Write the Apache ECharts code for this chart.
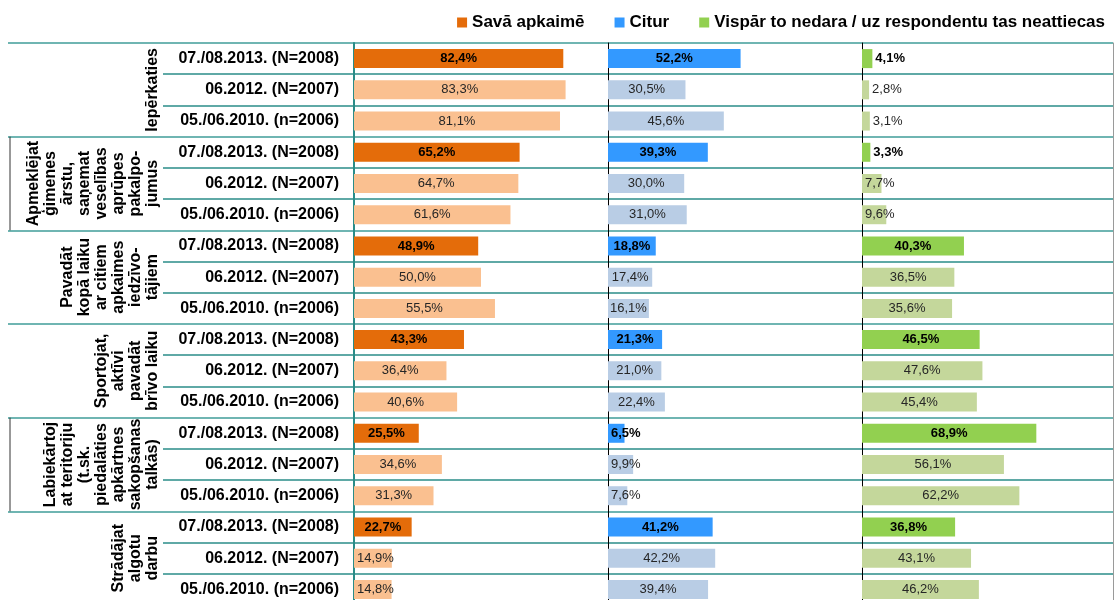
<!DOCTYPE html>
<html>
<head>
<meta charset="utf-8">
<script src="https://cdn.jsdelivr.net/npm/echarts@6/dist/echarts.min.js"></script>
<style>
  html, body { margin: 0; background: #fff; overflow: hidden; }
  /* pēdējā rinda atsaucē ir nogriezta apakšā, tāpēc zīmējums ir augstāks par logu */
  #chart { width: 1115px; height: 620px; }
</style>
</head>
<body>
<div id="chart"></div>
<script>
// grupas (rotēti virsraksti kreisajā kolonnā)
const groups = [
  'Iepērkaties',
  'Apmeklējat\nģimenes\nārstu,\nsaņemat\nveselības\naprūpes\npakalpo-\njumus',
  'Pavadāt\nkopā laiku\nar citiem\napkaimes\niedzīvo-\ntājiem',
  'Sportojat,\naktīvi\npavadāt\nbrīvo laiku',
  'Labiekārtoj\nat teritoriju\n(t.sk.\npiedalāties\napkārtnes\nsakopšanas\ntalkās)',
  'Strādājat\nalgotu\ndarbu'
]
const periods = ['07./08.2013. (N=2008)', '06.2012. (N=2007)', '05./06.2010. (n=2006)']
const seriesNames = ['Savā apkaimē', 'Citur', 'Vispār to nedara / uz respondentu tas neattiecas']

const savaApkaime = [82.4, 83.3, 81.1, 65.2, 64.7, 61.6, 48.9, 50.0, 55.5, 43.3, 36.4, 40.6, 25.5, 34.6, 31.3, 22.7, 14.9, 14.8]
const citur = [52.2, 30.5, 45.6, 39.3, 30.0, 31.0, 18.8, 17.4, 16.1, 21.3, 21.0, 22.4, 6.5, 9.9, 7.6, 41.2, 42.2, 39.4]
const vispar = [4.1, 2.8, 3.1, 3.3, 7.7, 9.6, 40.3, 36.5, 35.6, 46.5, 47.6, 45.4, 68.9, 56.1, 62.2, 36.8, 43.1, 46.2]

const FONT = 'Arial, "Liberation Sans", sans-serif'
const TEAL = '#2a8c88'
const rowKeys = groups.flatMap((g, gi) => periods.map((p, pi) => gi + '_' + pi))
const groupKeys = groups.map((g, gi) => 'g' + gi)

const panelLeft = [354, 608, 862]
const panelWidth = 254
const plotTop = 43
const plotHeight = 562
const pxPerPct = panelWidth / 100

const palette = [
  { strong: '#e46c0a', light: '#fac090' },
  { strong: '#3399ff', light: '#b9cde5' },
  { strong: '#92d050', light: '#c4d79b' }
]

function fmt(v) {
  return v.toFixed(1).replace('.', ',') + '%'
}

// etiķetes novietojums kā Excel: šauriem stabiņiem teksts pie ass
function labelPos(v) {
  const textW = 13 * ((v >= 10 ? 3 : 2) * 0.556 + 0.278 + 0.889)
  if (v < 5) return 'right'
  if (textW + 2 > v * pxPerPct) return 'insideLeft'
  return 'inside'
}

function buildData(values, colors) {
  return values.map((v, i) => {
    const bold = i % 3 === 0
    return {
      value: v,
      itemStyle: { color: bold ? colors.strong : colors.light },
      label: {
        position: labelPos(v),
        distance: 3,
        fontWeight: bold ? 'bold' : 'normal',
        color: bold ? '#000' : '#262626'
      }
    }
  })
}

const chart = echarts.init(document.getElementById('chart'))

const grid = panelLeft.map(l => ({ left: l, width: panelWidth, top: plotTop, height: plotHeight }))
grid.push({ left: 163, right: 2, top: plotTop, height: plotHeight }) // rindu līnijas
grid.push({ left: 8, right: 2, top: plotTop, height: plotHeight })   // grupu līnijas

const xAxis = grid.map((g, i) => ({ type: 'value', gridIndex: i, min: 0, max: 100, show: false }))

const yAxis = panelLeft.map((l, i) => ({
  type: 'category',
  gridIndex: i,
  inverse: true,
  data: rowKeys,
  axisLine: { show: true, onZero: false, lineStyle: { color: i === 0 ? TEAL : '#000', width: i === 0 ? 2 : 1 } },
  axisTick: { show: false },
  splitLine: { show: false },
  axisLabel: {
    show: i === 0,
    margin: 15,
    fontFamily: FONT,
    fontSize: 16,
    fontWeight: 'bold',
    color: '#000',
    formatter: k => periods[+k.split('_')[1]]
  }
}))
yAxis.push({
  type: 'category', gridIndex: 3, inverse: true, data: rowKeys, position: 'right',
  axisLine: { show: true, onZero: false, lineStyle: { color: '#9a9a9a', width: 1 } },
  axisTick: { show: false }, axisLabel: { show: false },
  splitLine: { show: true, lineStyle: { color: TEAL, width: 1.5 } }
})
yAxis.push({
  type: 'category', gridIndex: 4, inverse: true, data: groupKeys,
  axisLine: { show: false }, axisTick: { show: false }, axisLabel: { show: false },
  splitLine: { show: true, lineStyle: { color: '#6fb5b2', width: 2 } }
})

const series = [savaApkaime, citur, vispar].map((vals, i) => ({
  name: seriesNames[i],
  type: 'bar',
  xAxisIndex: i,
  yAxisIndex: i,
  barWidth: 19,
  itemStyle: { color: palette[i].strong },
  label: {
    show: true,
    fontFamily: FONT,
    fontSize: 13,
    formatter: p => fmt(p.value)
  },
  data: buildData(vals, palette[i])
}))

chart.setOption({
  animation: false,
  textStyle: { fontFamily: FONT },
  legend: {
    data: seriesNames,
    right: 5,
    top: 9,
    icon: 'rect',
    itemWidth: 10,
    itemHeight: 10,
    itemGap: 30,
    textStyle: { fontFamily: FONT, fontSize: 17, fontWeight: 'bold', color: '#000' }
  },
  grid: grid,
  xAxis: xAxis,
  yAxis: yAxis,
  series: series
})

// grupu virsraksti un kreisā mala dažām grupām
const graphics = []
const half = plotHeight / groups.length / 2
groups.forEach((g, gi) => {
  const cy = chart.convertToPixel({ yAxisIndex: 4 }, groupKeys[gi])
  graphics.push({
    type: 'text',
    x: 161,
    y: cy,
    rotation: Math.PI / 2,
    style: {
      text: g,
      font: 'bold 16px ' + FONT,
      fill: '#000',
      align: 'center',
      verticalAlign: 'bottom',
      textAlign: 'center',
      textVerticalAlign: 'bottom',
      lineHeight: 17
    }
  })
  if (gi === 1 || gi === 4) {
    graphics.push({
      type: 'line',
      shape: { x1: 10, y1: cy - half, x2: 10, y2: cy + half },
      style: { stroke: '#333', lineWidth: 1 }
    })
  }
})
chart.setOption({ graphic: graphics })
</script>
</body>
</html>
